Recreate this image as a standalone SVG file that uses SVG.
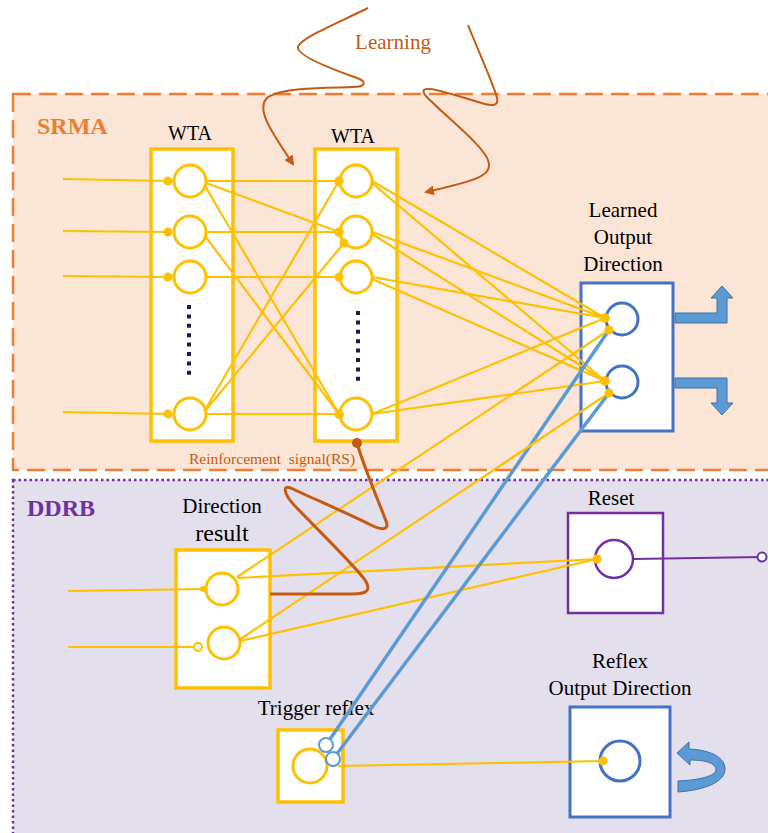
<svg xmlns="http://www.w3.org/2000/svg" width="768" height="833" viewBox="0 0 768 833" font-family="'Liberation Serif', 'DejaVu Serif', serif">
<defs>
<style>
text{font-family:'Liberation Serif','DejaVu Serif',serif}
.t{fill:#000;text-anchor:middle}
.box-y{fill:#fff;stroke:#FFC000;stroke-width:3.5}
.box-b{fill:#fff;stroke:#4472C4;stroke-width:3}
.box-p{fill:#fff;stroke:#7030A0;stroke-width:2.5}
.n-y{fill:none;stroke:#FFC000;stroke-width:3}
.n-b{fill:none;stroke:#4472C4;stroke-width:3}
.n-p{fill:none;stroke:#7030A0;stroke-width:2.5}
.ly{fill:none;stroke:#FFC000;stroke-width:2.2}
.lb{fill:none;stroke:#5B9BD5;stroke-width:3.5}
.lo{fill:none;stroke:#C55A11;stroke-width:2}
.lrs{fill:none;stroke:#C55A11;stroke-width:3}
.ell{stroke:#1B1B50;stroke-width:4;stroke-dasharray:4 5.4}
.blk{fill:#5B9BD5;stroke:#41719C;stroke-width:1}
</style>
<marker id="dot" viewBox="-5 -5 10 10" markerWidth="10" markerHeight="10" refX="0" refY="0" markerUnits="userSpaceOnUse" orient="auto"><circle r="4.5" fill="#FFC000"/></marker>
<marker id="sdot" viewBox="-5 -5 10 10" markerWidth="10" markerHeight="10" refX="0" refY="0" markerUnits="userSpaceOnUse" orient="auto"><circle r="3" fill="#FFC000"/></marker>
<marker id="oy" viewBox="-6 -6 12 12" markerWidth="12" markerHeight="12" refX="0" refY="0" markerUnits="userSpaceOnUse" orient="auto"><circle r="4" fill="#fff" stroke="#FFC000" stroke-width="2"/></marker>
<marker id="op" viewBox="-6 -6 12 12" markerWidth="12" markerHeight="12" refX="0" refY="0" markerUnits="userSpaceOnUse" orient="auto"><circle r="4.5" fill="#fff" stroke="#7030A0" stroke-width="2"/></marker>
<marker id="bdot" viewBox="-6 -6 12 12" markerWidth="12" markerHeight="12" refX="0" refY="0" markerUnits="userSpaceOnUse"><circle r="5" fill="#C55A11"/></marker>
<marker id="arr" viewBox="0 0 10 10" markerWidth="10" markerHeight="10" refX="8" refY="5" markerUnits="userSpaceOnUse" orient="auto"><path d="M0,0 L10,5 L0,10 z" fill="#C55A11"/></marker>
</defs>

<rect x="0" y="0" width="768" height="833" fill="#fff"/>

<g id="srma">
<rect x="13" y="94" width="790" height="376" fill="#FBE5D6" stroke="#ED7D31" stroke-width="2.5" stroke-dasharray="18 8"/>
<text x="37" y="134" font-family="'Liberation Serif', 'DejaVu Serif', serif" font-weight="bold" font-size="24" fill="#ED7D31">SRMA</text>
</g>
<g id="ddrb">
<rect x="13" y="480" width="790" height="380" fill="#E4DFEC" stroke="#7030A0" stroke-width="2.5" stroke-dasharray="2.5 3"/>
<text x="27" y="516" font-family="'Liberation Serif', 'DejaVu Serif', serif" font-weight="bold" font-size="24" fill="#7030A0">DDRB</text>
</g>

<g id="wta1">
<text class="t" x="190" y="140" font-size="20">WTA</text>
<rect class="box-y" x="151" y="149" width="82" height="292"/>
<circle class="n-y" cx="190" cy="181" r="16"/>
<circle class="n-y" cx="190" cy="232" r="16"/>
<circle class="n-y" cx="190" cy="277" r="16"/>
<circle class="n-y" cx="190" cy="414" r="16"/>
<line class="ell" x1="189" y1="305" x2="189" y2="376"/>
</g>

<g id="wta2">
<text class="t" x="353" y="143" font-size="20">WTA</text>
<rect class="box-y" x="315" y="149" width="82" height="292"/>
<circle class="n-y" cx="356" cy="181" r="16"/>
<circle class="n-y" cx="356" cy="232" r="16"/>
<circle class="n-y" cx="356" cy="277" r="16"/>
<circle class="n-y" cx="356" cy="414" r="16"/>
<line class="ell" x1="358" y1="311" x2="358" y2="382"/>
</g>

<g id="learned-output">
<text class="t" x="623" y="217" font-size="21">Learned</text>
<text class="t" x="623" y="244" font-size="21">Output</text>
<text class="t" x="623" y="271" font-size="21">Direction</text>
<rect class="box-b" x="581" y="283" width="92" height="148"/>
<circle class="n-b" cx="622" cy="319" r="16"/>
<circle class="n-b" cx="622" cy="382" r="16"/>
<polygon class="blk" points="675,313 717,313 717,298 711,298 722,286 733,298 727,298 727,323 675,323"/>
<polygon class="blk" points="675,378 727,378 727,403 733,403 722,415 711,403 717,403 717,388 675,388"/>
</g>

<g id="direction-result">
<text class="t" x="222" y="513" font-size="21">Direction</text>
<text class="t" x="222" y="541" font-size="24">result</text>
<rect class="box-y" x="176" y="550" width="94" height="138"/>
<circle class="n-y" cx="222" cy="589" r="16"/>
<circle class="n-y" cx="224" cy="643" r="16"/>
</g>

<g id="reset">
<text class="t" x="611" y="505" font-size="21">Reset</text>
<rect class="box-p" x="568" y="513" width="95" height="100"/>
<circle class="n-p" cx="614" cy="559" r="19"/>
</g>

<g id="trigger-reflex">
<text class="t" x="316" y="715" font-size="21">Trigger reflex</text>
<rect class="box-y" x="278" y="730" width="65" height="72"/>
<circle class="n-y" cx="310" cy="766" r="17"/>
</g>

<g id="reflex-output">
<text class="t" x="620" y="668" font-size="21">Reflex</text>
<text class="t" x="620" y="695" font-size="21">Output Direction</text>
<rect class="box-b" x="570" y="707" width="100" height="110"/>
<circle class="n-b" cx="620" cy="761" r="20"/>
<path class="blk" d="M677,753 L689,742 L689,749 C712,750 725,758 725,769 C725,782 705,790 678,792 L678,781 C700,780 715,776 716,770 C716,763 705,760 690,760 L690,765 Z"/>
</g>

<g id="connectors">
<line class="ly" x1="63" y1="179" x2="168" y2="181" marker-end="url(#dot)"/>
<line class="ly" x1="63" y1="231" x2="168" y2="232" marker-end="url(#dot)"/>
<line class="ly" x1="63" y1="276" x2="168" y2="277" marker-end="url(#dot)"/>
<line class="ly" x1="63" y1="412" x2="168" y2="414" marker-end="url(#dot)"/>

<line class="ly" x1="206" y1="181" x2="339" y2="181" marker-end="url(#dot)"/>
<line class="ly" x1="206" y1="183" x2="339" y2="232" marker-end="url(#dot)"/>
<line class="ly" x1="205" y1="186" x2="339" y2="414" marker-end="url(#dot)"/>
<line class="ly" x1="206" y1="232" x2="339" y2="232" marker-end="url(#dot)"/>
<line class="ly" x1="205" y1="236" x2="339" y2="414" marker-end="url(#dot)"/>
<line class="ly" x1="206" y1="277" x2="339" y2="277" marker-end="url(#dot)"/>
<line class="ly" x1="206" y1="414" x2="339" y2="414" marker-end="url(#dot)"/>
<line class="ly" x1="205" y1="410" x2="339" y2="181" marker-end="url(#dot)"/>
<line class="ly" x1="205" y1="411" x2="344" y2="243" marker-end="url(#dot)"/>

<line class="ly" x1="372" y1="181" x2="605" y2="318" marker-end="url(#dot)"/>
<line class="ly" x1="372" y1="183" x2="605" y2="381" marker-end="url(#dot)"/>
<line class="ly" x1="372" y1="232" x2="605" y2="318" marker-end="url(#dot)"/>
<line class="ly" x1="372" y1="234" x2="605" y2="381" marker-end="url(#dot)"/>
<line class="ly" x1="372" y1="277" x2="605" y2="318" marker-end="url(#dot)"/>
<line class="ly" x1="372" y1="279" x2="605" y2="381" marker-end="url(#dot)"/>
<line class="ly" x1="372" y1="414" x2="605" y2="318" marker-end="url(#dot)"/>
<line class="ly" x1="372" y1="414" x2="605" y2="381" marker-end="url(#dot)"/>

<line class="ly" x1="68" y1="591" x2="203" y2="589" marker-end="url(#sdot)"/>
<line class="ly" x1="68" y1="647" x2="198" y2="647" marker-end="url(#oy)"/>

<line class="ly" x1="237" y1="578" x2="597" y2="559" marker-end="url(#dot)"/>
<line class="ly" x1="240" y1="641" x2="597" y2="559" marker-end="url(#dot)"/>

<line class="lb" x1="326" y1="745" x2="609" y2="330"/>
<line class="lb" x1="333" y1="759" x2="609" y2="393"/>

<line class="ly" x1="237" y1="577" x2="609" y2="330" marker-end="url(#dot)"/>
<line class="ly" x1="239" y1="640" x2="609" y2="393" marker-end="url(#dot)"/>

<line class="ly" x1="338" y1="766" x2="603" y2="761" marker-end="url(#dot)"/>
<circle cx="326" cy="745" r="7" fill="#fff" stroke="#5B9BD5" stroke-width="2"/>
<circle cx="333" cy="759" r="7" fill="#fff" stroke="#5B9BD5" stroke-width="2"/>

<line x1="633" y1="559" x2="762" y2="557" stroke="#7030A0" stroke-width="2.2" marker-end="url(#op)"/>

<path class="lrs" d="M357,443 C365,470 380,505 386,521 C390,531 381,530 371,525 C345,512 305,495 293,489 C281,483 284,494 294,505 C320,532 355,566 365,580 C372,591 366,594 352,594 L270,594" marker-start="url(#bdot)"/>

<path class="lo" d="M368,8 C340,22 300,38 298,47 C296,56 340,72 357,78 C368,82 365,87 353,87 C330,88 285,87 268,97 C255,108 270,130 293,164" marker-end="url(#arr)"/>
<path class="lo" d="M468,25 C478,50 495,88 497,98 C499,106 492,106 485,104 C465,98 440,90 430,89 C418,88 425,96 432,102 C450,120 482,145 488,160 C493,175 480,180 426,192" marker-end="url(#arr)"/>
</g>

<g id="labels">
<text x="393" y="49" font-size="21" fill="#C55A11" text-anchor="middle">Learning</text>
<text x="272" y="464" font-size="15.5" fill="#C55A11" text-anchor="middle" xml:space="preserve">Reinforcement  signal(RS)</text>
</g>
</svg>
